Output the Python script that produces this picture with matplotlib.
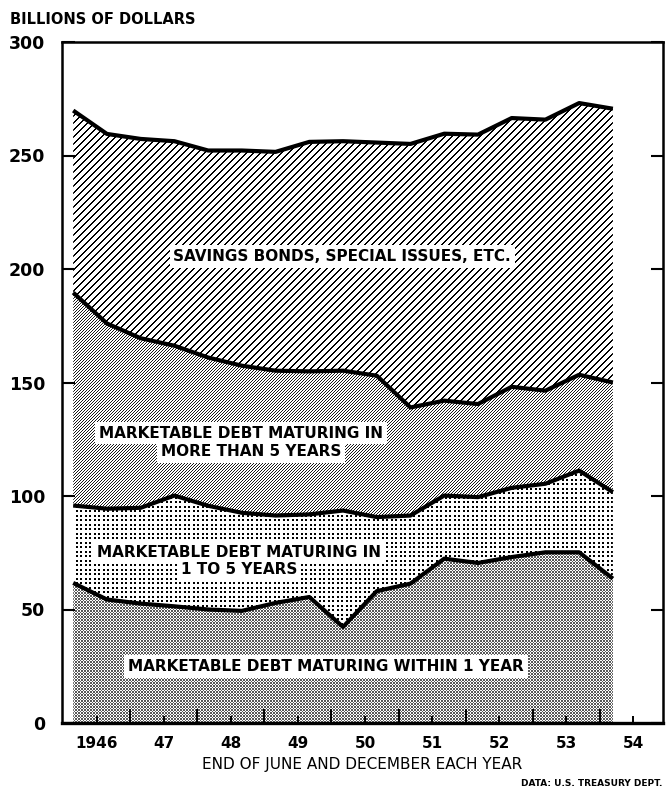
import matplotlib

matplotlib.use("Agg")
import matplotlib.pyplot as plt
import numpy as np

# end of June / December, 1946 - 1954 (billions of dollars)
periods = ["Jun 46", "Dec 46", "Jun 47", "Dec 47", "Jun 48", "Dec 48", "Jun 49", "Dec 49",
           "Jun 50", "Dec 50", "Jun 51", "Dec 51", "Jun 52", "Dec 52", "Jun 53", "Dec 53", "Jun 54"]
within_1yr = [61.7, 54.4, 52.6, 51.4, 50.0, 49.4, 52.9, 55.5, 42.3, 58.1, 61.4, 72.4, 70.5,
              73.1, 75.2, 75.2, 63.6]
one_to_5yr = [34.1, 40.0, 42.2, 48.8, 45.7, 43.2, 38.5, 36.4, 51.3, 32.6, 30.0, 27.8, 29.0,
              30.5, 30.2, 36.0, 38.1]
over_5yr = [93.8, 81.6, 74.7, 66.0, 65.3, 64.8, 63.8, 63.0, 61.6, 62.3, 47.6, 41.8, 41.0,
            44.5, 41.0, 42.2, 48.3]
savings_etc = [80.2, 83.5, 87.8, 90.1, 91.2, 94.8, 96.4, 101.1, 101.1, 102.7, 116.1, 117.6,
               118.7, 118.4, 119.4, 119.7, 120.6]

year_ticks = [1946, 1947, 1948, 1949, 1950, 1951, 1952, 1953, 1954]
year_labels = ["1946", "47", "48", "49", "50", "51", "52", "53", "54"]
y_ticks = [0, 50, 100, 150, 200, 250, 300]

FONT = "DejaVu Sans"
plt.rcParams["font.family"] = FONT

x = 1945.65 + 0.5028 * np.arange(len(periods))
layers = np.cumsum([within_1yr, one_to_5yr, over_5yr, savings_etc], axis=0)
bottoms = np.vstack([np.zeros(len(periods)), layers[:-1]])

fig = plt.figure(figsize=(6.67, 7.88), dpi=100)
W, H = 601, 681
ax = fig.add_axes([62 / 667, 65 / 788, W / 667, H / 788])
xl, xr = 1945.483, 1954.442

# textures (black on white), clipped to each band
rr, cc = np.mgrid[0:H, 0:W]
textures = [
    ((rr + cc) % 3 == 0) | ((rr - cc) % 3 == 0),   # fine screen
    (rr % 4.5 < 1.8) & (cc % 4.5 < 1.8),           # dots
    (rr + cc) % 3 == 0,                            # dense diagonal
    (rr + cc) % 7 < 2,                             # open diagonal
]
shade = [0.35, 0.0, 0.1, 0.0]  # how light the black of each screen prints
for lo, hi, mask, s in zip(bottoms, layers, textures, shade):
    poly = ax.fill_between(x, lo, hi, facecolor="none", edgecolor="none")
    img = np.where(mask, s, 1.0)
    im = ax.imshow(img, cmap="gray", vmin=0, vmax=1, extent=[xl, xr, 0, 300],
                   origin="upper", interpolation="nearest", aspect="auto", zorder=1)
    im.set_clip_path(poly.get_paths()[0], ax.transData)

for top in layers:
    ax.plot(x, top, color="black", lw=3.0, zorder=3, solid_capstyle="butt")

ax.set_xlim(xl, xr)
ax.set_ylim(0, 300)

for side in ["left", "right", "top"]:
    ax.spines[side].set_linewidth(1.8)
ax.spines["bottom"].set_linewidth(2.4)

ax.set_yticks(y_ticks)
ax.set_yticklabels([str(v) for v in y_ticks], fontsize=12.5, fontweight="bold")
ax.tick_params(axis="y", direction="in", length=9, width=1.5, right=True, pad=12)
ax.set_xticks(year_ticks)
ax.set_xticklabels(year_labels, fontsize=11, fontweight="bold")
ax.set_xticks([y + 0.5 for y in year_ticks[:-1]], minor=True)
ax.tick_params(axis="x", which="major", direction="in", length=5, width=1.4, pad=9)
ax.tick_params(axis="x", which="minor", direction="in", length=10, width=1.4)

ax.set_xlabel("END OF JUNE AND DECEMBER EACH YEAR", fontsize=11, labelpad=5)
fig.text(10 / 667, 1 - 20 / 788, "BILLIONS OF DOLLARS", fontsize=10.5, fontweight="bold",
         ha="left", va="center")
fig.text(662 / 667, 1 - 783 / 788, "DATA: U.S. TREASURY DEPT.", fontsize=6.5,
         fontweight="bold", ha="right", va="center")

box = dict(boxstyle="square,pad=0.25", fc="white", ec="none")
labels = [
    (1949.66, 205.5, "SAVINGS BONDS, SPECIAL ISSUES, ETC."),
    (1948.15, 127.7, "MARKETABLE DEBT MATURING IN"),
    (1948.30, 119.6, "MORE THAN 5 YEARS"),
    (1948.12, 75.0, "MARKETABLE DEBT MATURING IN"),
    (1948.12, 67.7, "1 TO 5 YEARS"),
    (1949.42, 25.0, "MARKETABLE DEBT MATURING WITHIN 1 YEAR"),
]
for lx, ly, txt in labels:
    ax.text(lx, ly, txt, fontsize=11, fontweight="bold", ha="center", va="center",
            bbox=box, zorder=4)

fig.savefig("out.png", dpi=100)
